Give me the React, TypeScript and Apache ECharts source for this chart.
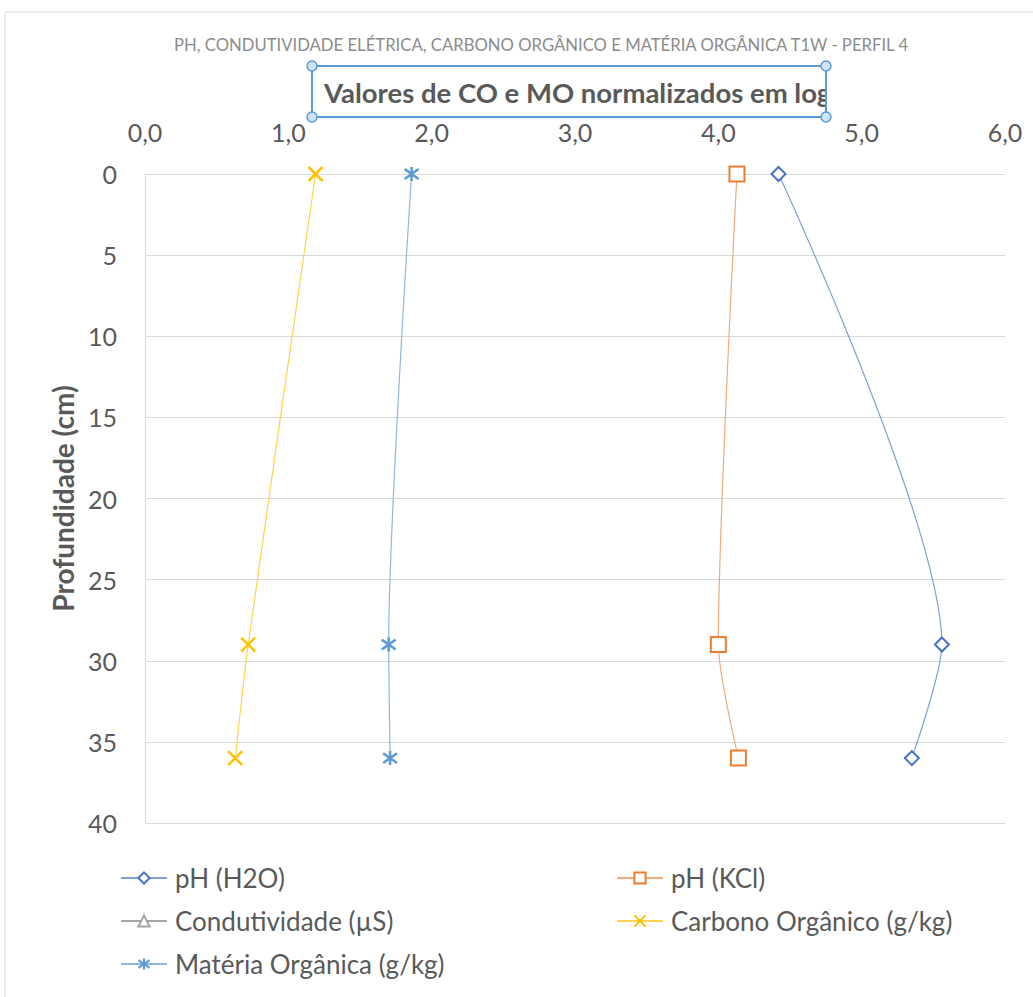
import React, { useEffect, useRef } from "react";
import * as echarts from "echarts";

const depths = [0, 29, 36];
const phH2O = [4.42, 5.56, 5.35];
const phKCl = [4.13, 4.0, 4.14];
const condutividade: number[] = [];
const carbono = [1.19, 0.72, 0.63];
const materia = [1.86, 1.70, 1.71];
const xTicks = [0, 1, 2, 3, 4, 5, 6];
const yTicks = [0, 5, 10, 15, 20, 25, 30, 35, 40];
const seriesNames = [
  "pH (H2O)",
  "pH (KCl)",
  "Condutividade (µS)",
  "Carbono Orgânico (g/kg)",
  "Matéria Orgânica (g/kg)",
];
const title = "PH, CONDUTIVIDADE ELÉTRICA, CARBONO ORGÂNICO E MATÉRIA ORGÂNICA T1W - PERFIL 4";
const subtitle = "Valores de CO e MO normalizados em log";

const FONT = "Lato, 'Open Sans', sans-serif";
const X_PATH = "path://M0,0L10,10M10,0L0,10";
const AST_PATH = "path://M5,0L5,10M1,1.5L9,8.5M1,8.5L9,1.5";

function pairs(xs: number[]) {
  return xs.map((x, i) => [x, depths[i]]);
}

export default function App() {
  const ref = useRef<HTMLDivElement>(null);
  useEffect(() => {
    if (!ref.current) return;
    const chart = echarts.init(ref.current, undefined, { renderer: "svg" });
    const colors = ["#4472C4", "#ED7D31", "#A5A5A5", "#FFC000", "#5B9BD5"];
    const lineColors = ["#7F9FD8", "#F4A97A", "#A5A5A5", "#FFD24D", "#8CB9E3"];
    const symbols = ["emptyDiamond", "emptyRect", "emptyTriangle", X_PATH, AST_PATH];
    const sizes = [14, 15, 13, 14, 14];
    const datas = [phH2O, phKCl, condutividade, carbono, materia];
    const series = seriesNames.map((name, i) => ({
      name,
      type: "line",
      data: pairs(datas[i]),
      smooth: 0.25,
      symbol: symbols[i],
      symbolSize: sizes[i],
      showSymbol: true,
      color: colors[i],
      lineStyle: { color: lineColors[i], width: 1.2 },
      itemStyle: { color: colors[i], borderColor: colors[i], borderWidth: 2.5 },
    }));
    const legendPos = [
      [115, 858],
      [611, 858],
      [115, 901],
      [611, 901],
      [115, 944],
    ];
    const legends = seriesNames.map((n, i) => ({
      data: [n],
      left: legendPos[i][0],
      top: legendPos[i][1],
      itemWidth: 46,
      itemHeight: 14,
      itemGap: 0,
      textStyle: {
        fontFamily: FONT,
        fontSize: 26,
        lineHeight: 30,
        color: "#595959",
        padding: [0, 0, 0, 3],
      },
    }));
    chart.setOption({
      animation: false,
      backgroundColor: "#ffffff",
      textStyle: { fontFamily: FONT },
      grid: { left: 145, right: 28, top: 174, bottom: 174, containLabel: false },
      xAxis: {
        type: "value",
        position: "top",
        min: xTicks[0],
        max: xTicks[xTicks.length - 1],
        interval: 1,
        axisLine: { show: false },
        axisTick: { show: false },
        splitLine: { show: false },
        axisLabel: {
          margin: 30,
          fontSize: 25,
          color: "#595959",
          fontFamily: FONT,
          formatter: (v: number) => v.toFixed(1).replace(".", ","),
        },
      },
      yAxis: {
        type: "value",
        inverse: true,
        min: yTicks[0],
        max: yTicks[yTicks.length - 1],
        interval: 5,
        name: "Profundidade (cm)",
        nameLocation: "middle",
        nameGap: 67,
        nameTextStyle: { fontFamily: FONT, fontSize: 28, fontWeight: "bold", color: "#595959" },
        axisLine: { show: true, lineStyle: { color: "#D9D9D9", width: 1 } },
        axisTick: { show: false },
        splitLine: { show: true, lineStyle: { color: "#D9D9D9", width: 1 } },
        axisLabel: { margin: 28, fontSize: 25, color: "#595959", fontFamily: FONT },
      },
      legend: legends,
      graphic: [
        {
          type: "rect",
          shape: { x: 5, y: 12, width: 1100, height: 1100 },
          style: { fill: "none", stroke: "#D9D9D9", lineWidth: 1 },
          silent: true,
        },
        {
          type: "text",
          x: 541,
          y: 45,
          style: {
            text: title,
            fontFamily: FONT,
            fontSize: 16.7,
            fill: "#8c8c8c",
            align: "center",
            verticalAlign: "middle",
          },
        },
        {
          type: "group",
          clipPath: { type: "rect", shape: { x: 312, y: 66, width: 514, height: 51 } },
          children: [
            {
              type: "text",
              x: 324,
              y: 92,
              style: {
                text: subtitle,
                fontFamily: FONT,
                fontSize: 27.5,
                fontWeight: "bold",
                fill: "#595959",
                align: "left",
                verticalAlign: "middle",
              },
            },
          ],
        },
        {
          type: "rect",
          shape: { x: 312, y: 66, width: 514, height: 51 },
          style: { fill: "none", stroke: "#5B9BD5", lineWidth: 2 },
        },
        ...[
          [312, 66],
          [826, 66],
          [312, 117],
          [826, 117],
        ].map(([cx, cy]) => ({
          type: "circle",
          shape: { cx, cy, r: 5 },
          style: { fill: "#cfe3f6", stroke: "#5B9BD5", lineWidth: 1.5 },
        })),
      ],
      series,
    });
    return () => chart.dispose();
  }, []);
  return <div ref={ref} style={{ width: 1033, height: 997, position: "absolute", left: 0, top: 0 }} />;
}
